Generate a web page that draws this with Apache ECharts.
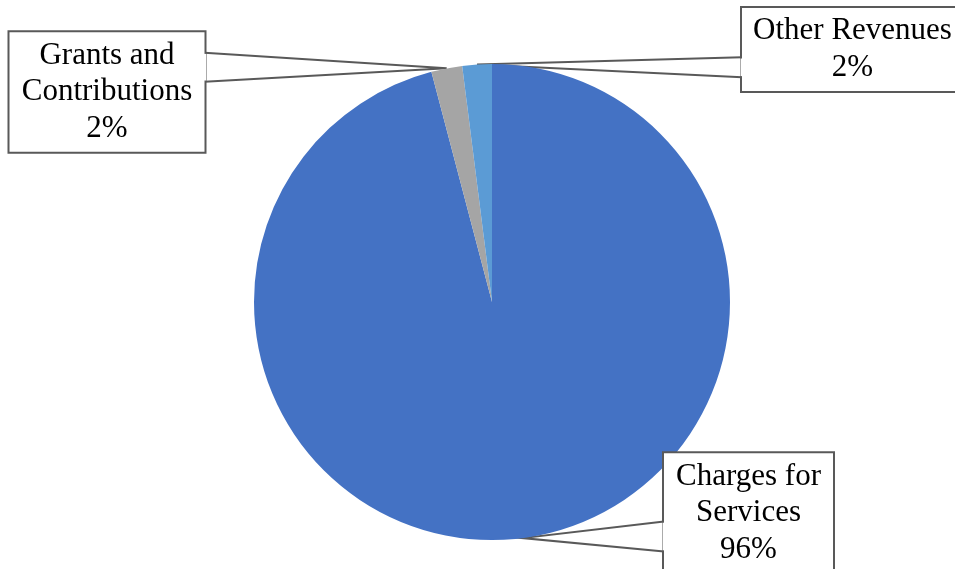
<!DOCTYPE html>
<html>
<head>
<meta charset="utf-8">
<script src="https://cdn.jsdelivr.net/npm/echarts@6/dist/echarts.min.js"></script>
<style>html,body{margin:0;padding:0;background:#fff;}#c{width:955px;height:569px;}</style>
</head>
<body>
<div id="c"></div>
<script>
// ---- data ----
const categories = ['Charges for Services', 'Grants and Contributions', 'Other Revenues'];
const labelNames = ['Charges for\nServices', 'Grants and\nContributions', 'Other Revenues'];
const values = [95.9, 2.1, 2.0];
const colors = ['#4472C4', '#A5A5A5', '#5B9BD5'];

// ---- layout (callout boxes) ----
const CX = 492, CY = 302, R = 238;
const boxes = [
  {left: 664, top: 453, w: 169, h: 120, side: 'left', p1: 68.5, p2: 98.5},
  {left: 9.5, top: 32, w: 195, h: 120, side: 'right', p1: 20.7, p2: 49.7},
  {left: 742, top: 8.3, w: 221, h: 82.5, side: 'left', p1: 49, p2: 69}
];

const total = values.reduce((a, b) => a + b, 0);
function anchor(i) {
  let cum = 0;
  for (let k = 0; k < i; k++) cum += values[k];
  const a = (cum + values[i] / 2) / total * 2 * Math.PI;
  return [CX + R * Math.sin(a), CY - R * Math.cos(a)];
}
function edgeX(b) { return b.side === 'left' ? b.left : b.left + b.w; }

const chart = echarts.init(document.getElementById('c'), null, {renderer: 'canvas'});
chart.setOption({
  animation: false,
  backgroundColor: '#fff',
  // white gaps in the callout border where the pointer joins the box
  graphic: boxes.map(b => ({
    type: 'line',
    z: 100,
    silent: true,
    shape: {x1: edgeX(b), y1: b.top + b.p1 + 1.2, x2: edgeX(b), y2: b.top + b.p2 - 1.2},
    style: {stroke: '#fff', lineWidth: 3}
  })),
  series: [{
    type: 'pie',
    center: [CX, CY],
    radius: R,
    startAngle: 90,
    clockwise: true,
    avoidLabelOverlap: false,
    silent: true,
    data: categories.map((n, i) => ({name: n, value: values[i], itemStyle: {color: colors[i]}})),
    itemStyle: {borderWidth: 0},
    label: {
      show: true,
      position: 'outside',
      formatter: p => labelNames[p.dataIndex] + '\n' + Math.round(p.percent) + '%',
      fontFamily: '"Liberation Serif", "Times New Roman", serif',
      fontSize: 31,
      lineHeight: 36.5,
      color: '#000',
      align: 'center',
      backgroundColor: '#fff',
      borderColor: '#595959',
      borderWidth: 2,
      padding: [9, 0, 1, 0]
    },
    labelLine: {
      show: true,
      lineStyle: {color: '#595959', width: 2}
    },
    labelLayout: function (params) {
      const i = params.dataIndex;
      const b = boxes[i];
      const ex = edgeX(b);
      const an = anchor(i);
      return {
        x: b.left + b.w / 2,
        y: b.top + b.h / 2,
        align: 'center',
        verticalAlign: 'middle',
        width: b.w,
        labelLinePoints: [[ex, b.top + b.p1], an, [ex, b.top + b.p2]]
      };
    }
  }]
});
</script>
</body>
</html>
